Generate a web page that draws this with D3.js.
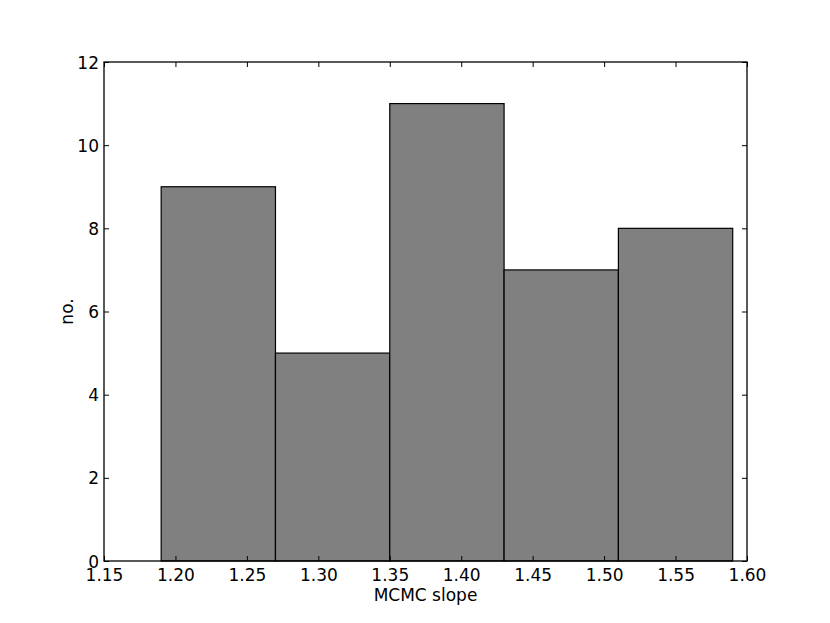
<!DOCTYPE html>
<html><head><meta charset="utf-8">
<script src="https://cdn.jsdelivr.net/npm/d3@7"></script>
<style>body{margin:0;background:#fff}svg{display:block}text{font-family:"DejaVu Sans",sans-serif;}</style>
</head><body>
<script>
const binEdges = [1.19, 1.27, 1.35, 1.43, 1.51, 1.59];
const counts = [9, 5, 11, 7, 8];
const xTicks = [1.15, 1.20, 1.25, 1.30, 1.35, 1.40, 1.45, 1.50, 1.55, 1.60];
const yTicks = [0, 2, 4, 6, 8, 10, 12];
const xLabel = "MCMC slope";
const yLabel = "no.";

const W = 830, H = 623;
const m = {left: 104, right: 830 - 747, top: 62, bottom: 623 - 561};
const svg = d3.select("body").append("svg").attr("width", W).attr("height", H);
const x = d3.scaleLinear().domain([1.15, 1.60]).range([m.left, W - m.right]);
const y = d3.scaleLinear().domain([0, 12]).range([H - m.bottom, m.top]);

const bins = counts.map((c, i) => ({x0: binEdges[i], x1: binEdges[i + 1], c}));
svg.append("g").selectAll("rect").data(bins).join("rect")
  .attr("x", d => x(d.x0)).attr("y", d => y(d.c))
  .attr("width", d => x(d.x1) - x(d.x0)).attr("height", d => y(0) - y(d.c))
  .attr("fill", "#808080").attr("stroke", "#000").attr("stroke-width", 1.2);

const fs = 17;
const fmt = d3.format(".2f");
const gx = svg.append("g").attr("transform", `translate(0,${y(0)})`)
  .call(d3.axisBottom(x).tickValues(xTicks).tickFormat(fmt).tickSizeInner(-5).tickSizeOuter(0).tickPadding(8));
const gx2 = svg.append("g").attr("transform", `translate(0,${y(12)})`)
  .call(d3.axisTop(x).tickValues(xTicks).tickFormat("").tickSizeInner(-5).tickSizeOuter(0));
const gy = svg.append("g").attr("transform", `translate(${x(1.15)},0)`)
  .call(d3.axisLeft(y).tickValues(yTicks).tickFormat(d3.format("d")).tickSizeInner(-5).tickSizeOuter(0).tickPadding(5));
const gy2 = svg.append("g").attr("transform", `translate(${x(1.60)},0)`)
  .call(d3.axisRight(y).tickValues(yTicks).tickFormat("").tickSizeInner(-5).tickSizeOuter(0));
[gx, gx2, gy, gy2].forEach(g => {
  g.select(".domain").remove();
  g.selectAll("line").attr("stroke", "#000").attr("stroke-width", 1);
  g.selectAll("text").attr("font-size", fs).attr("fill", "#000").attr("font-family", '"DejaVu Sans", sans-serif');
});
gy.selectAll("text").attr("dy", "0.36em");

svg.append("rect").attr("x", x(1.15)).attr("y", y(12))
  .attr("width", x(1.60) - x(1.15)).attr("height", y(0) - y(12))
  .attr("fill", "none").attr("stroke", "#000").attr("stroke-width", 1.3);

svg.append("text").attr("x", (x(1.15) + x(1.60)) / 2).attr("y", 601)
  .attr("text-anchor", "middle").attr("font-size", fs).text(xLabel);
svg.append("text").attr("transform", `translate(73,${(y(0) + y(12)) / 2}) rotate(-90)`)
  .attr("text-anchor", "middle").attr("font-size", fs).text(yLabel);
</script>
</body></html>
